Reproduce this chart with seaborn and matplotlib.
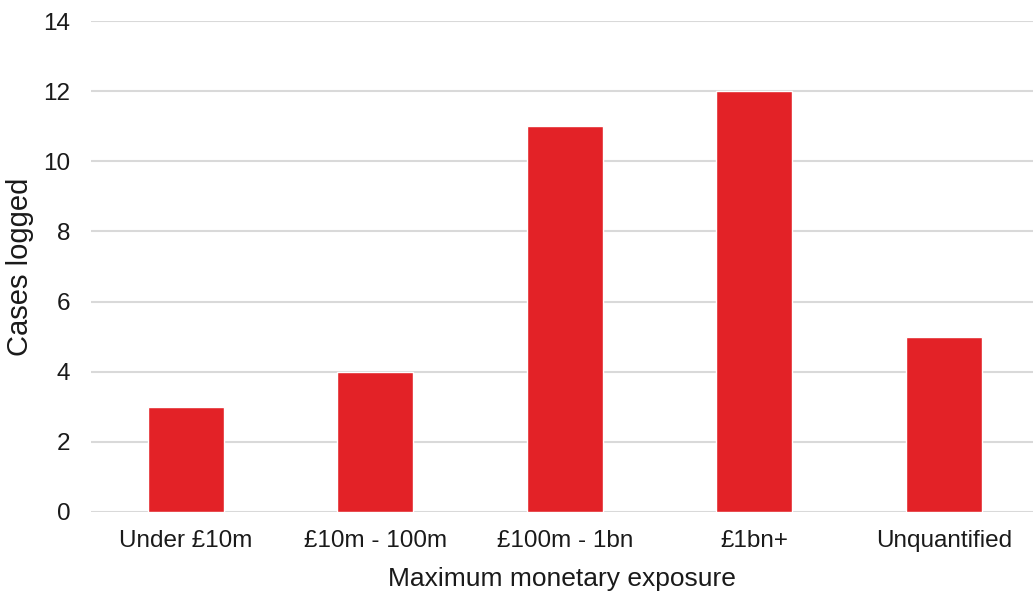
import matplotlib
matplotlib.use("Agg")
import matplotlib.pyplot as plt
import seaborn as sns
import pandas as pd

categories = ["Under £10m", "£10m - 100m", "£100m - 1bn", "£1bn+", "Unquantified"]
cases = [3, 4, 11, 12, 5]
y_ticks = [0, 2, 4, 6, 8, 10, 12, 14]

df = pd.DataFrame({"exposure": categories, "cases": cases})

sns.set_theme(style="white")
plt.rcParams["font.family"] = ["Liberation Sans", "DejaVu Sans"]

fig = plt.figure(figsize=(10.33, 5.95), dpi=100)
ax = fig.add_axes([91 / 1033, 83 / 595, (1033 - 91) / 1033, (512 - 21) / 595])

sns.barplot(data=df, x="exposure", y="cases", color="#E32227", width=0.4,
            saturation=1, ax=ax, zorder=3)

ax.set_ylim(0, 14)
ax.set_xlim(-0.5, 4.47)
ax.set_yticks(y_ticks)
ax.yaxis.grid(True, color="#D9D9D9", linewidth=1.5, zorder=0)
ax.xaxis.grid(False)
for s in ax.spines.values():
    s.set_visible(False)
ax.tick_params(axis="both", length=0, labelsize=17.5, colors="#1a1a1a")
ax.tick_params(axis="y", pad=15)
ax.tick_params(axis="x", pad=13)
ax.set_xlabel("Maximum monetary exposure", fontsize=19, color="#1a1a1a", labelpad=11)
ax.set_ylabel("Cases logged", fontsize=21, color="#1a1a1a")
ax.yaxis.set_label_coords(-0.061, 0.5)

fig.savefig("out.png", dpi=100)
